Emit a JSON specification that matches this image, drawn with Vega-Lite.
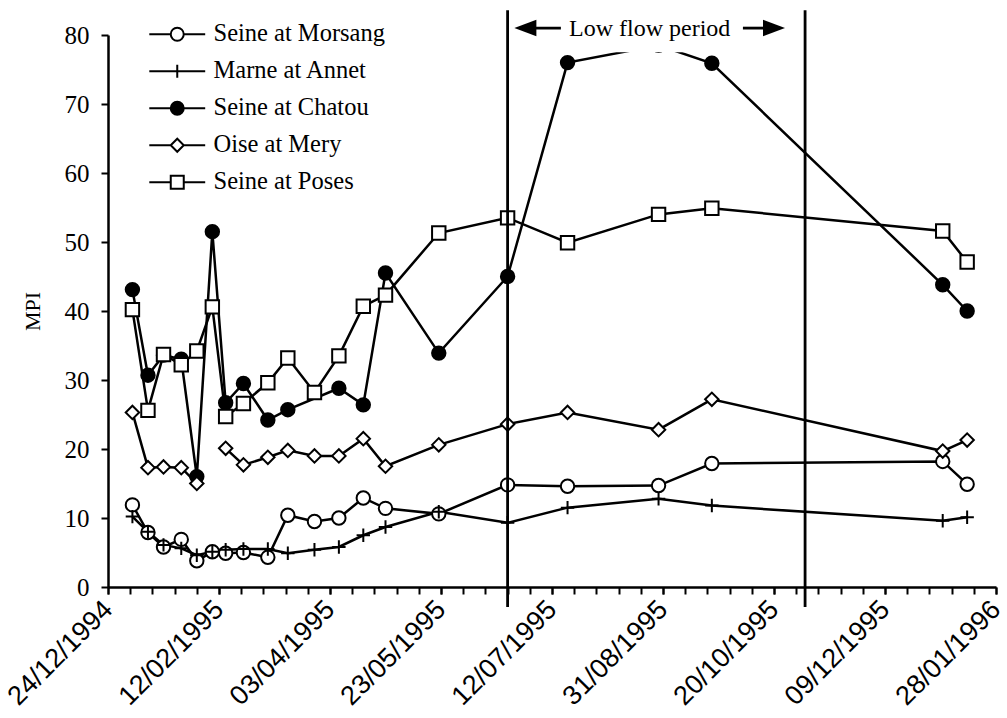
{
  "$schema": "https://vega.github.io/schema/vega-lite/v6.json",
  "width": 888,
  "height": 552,
  "autosize": "none",
  "padding": {"left": 108, "top": 35, "right": 11, "bottom": 131},
  "background": "white",
  "config": {
    "view": {"stroke": null},
    "font": "Liberation Serif",
    "legend": {
      "orient": "none",
      "legendX": 57,
      "legendY": -13,
      "padding": 0,
      "symbolSize": 169,
      "symbolStrokeColor": "black",
      "symbolStrokeWidth": 2,
      "symbolOpacity": 1,
      "labelFont": "Liberation Serif",
      "labelFontSize": 24.5,
      "labelColor": "black",
      "labelOffset": 24,
      "rowPadding": 12,
      "labelLimit": 400
    }
  },
  "datasets": {
    "mpi": [
      {"date": "1995-01-04", "series": "Seine at Morsang", "value": 11.9},
      {"date": "1995-01-11", "series": "Seine at Morsang", "value": 7.9},
      {"date": "1995-01-18", "series": "Seine at Morsang", "value": 5.8},
      {"date": "1995-01-26", "series": "Seine at Morsang", "value": 6.9},
      {"date": "1995-02-02", "series": "Seine at Morsang", "value": 3.8},
      {"date": "1995-02-09", "series": "Seine at Morsang", "value": 5.1},
      {"date": "1995-02-15", "series": "Seine at Morsang", "value": 4.9},
      {"date": "1995-02-23", "series": "Seine at Morsang", "value": 5.0},
      {"date": "1995-03-06", "series": "Seine at Morsang", "value": 4.3},
      {"date": "1995-03-15", "series": "Seine at Morsang", "value": 10.4},
      {"date": "1995-03-27", "series": "Seine at Morsang", "value": 9.5},
      {"date": "1995-04-07", "series": "Seine at Morsang", "value": 10.0},
      {"date": "1995-04-18", "series": "Seine at Morsang", "value": 12.9},
      {"date": "1995-04-28", "series": "Seine at Morsang", "value": 11.4},
      {"date": "1995-05-22", "series": "Seine at Morsang", "value": 10.6},
      {"date": "1995-06-22", "series": "Seine at Morsang", "value": 14.8},
      {"date": "1995-07-19", "series": "Seine at Morsang", "value": 14.6},
      {"date": "1995-08-29", "series": "Seine at Morsang", "value": 14.7},
      {"date": "1995-09-22", "series": "Seine at Morsang", "value": 17.9},
      {"date": "1996-01-04", "series": "Seine at Morsang", "value": 18.2},
      {"date": "1996-01-15", "series": "Seine at Morsang", "value": 14.9},

      {"date": "1995-01-04", "series": "Marne at Annet", "value": 10.2},
      {"date": "1995-01-11", "series": "Marne at Annet", "value": 8.0},
      {"date": "1995-01-18", "series": "Marne at Annet", "value": 6.1},
      {"date": "1995-01-26", "series": "Marne at Annet", "value": 5.6},
      {"date": "1995-02-02", "series": "Marne at Annet", "value": 4.6},
      {"date": "1995-02-09", "series": "Marne at Annet", "value": 5.1},
      {"date": "1995-02-15", "series": "Marne at Annet", "value": 5.4},
      {"date": "1995-02-23", "series": "Marne at Annet", "value": 5.5},
      {"date": "1995-03-06", "series": "Marne at Annet", "value": 5.5},
      {"date": "1995-03-15", "series": "Marne at Annet", "value": 4.9},
      {"date": "1995-03-27", "series": "Marne at Annet", "value": 5.4},
      {"date": "1995-04-07", "series": "Marne at Annet", "value": 5.8},
      {"date": "1995-04-18", "series": "Marne at Annet", "value": 7.5},
      {"date": "1995-04-28", "series": "Marne at Annet", "value": 8.7},
      {"date": "1995-05-22", "series": "Marne at Annet", "value": 10.9},
      {"date": "1995-06-22", "series": "Marne at Annet", "value": 9.3},
      {"date": "1995-07-19", "series": "Marne at Annet", "value": 11.5},
      {"date": "1995-08-29", "series": "Marne at Annet", "value": 12.8},
      {"date": "1995-09-22", "series": "Marne at Annet", "value": 11.8},
      {"date": "1996-01-04", "series": "Marne at Annet", "value": 9.6},
      {"date": "1996-01-15", "series": "Marne at Annet", "value": 10.1},

      {"date": "1995-01-04", "series": "Seine at Chatou", "value": 43.1},
      {"date": "1995-01-11", "series": "Seine at Chatou", "value": 30.7},
      {"date": "1995-01-18", "series": "Seine at Chatou", "value": 33.6},
      {"date": "1995-01-26", "series": "Seine at Chatou", "value": 33.0},
      {"date": "1995-02-02", "series": "Seine at Chatou", "value": 16.0},
      {"date": "1995-02-09", "series": "Seine at Chatou", "value": 51.5},
      {"date": "1995-02-15", "series": "Seine at Chatou", "value": 26.7},
      {"date": "1995-02-23", "series": "Seine at Chatou", "value": 29.5},
      {"date": "1995-03-06", "series": "Seine at Chatou", "value": 24.2},
      {"date": "1995-03-15", "series": "Seine at Chatou", "value": 25.7},
      {"date": "1995-04-07", "series": "Seine at Chatou", "value": 28.8},
      {"date": "1995-04-18", "series": "Seine at Chatou", "value": 26.4},
      {"date": "1995-04-28", "series": "Seine at Chatou", "value": 45.5},
      {"date": "1995-05-22", "series": "Seine at Chatou", "value": 33.9},
      {"date": "1995-06-22", "series": "Seine at Chatou", "value": 45.0},
      {"date": "1995-07-19", "series": "Seine at Chatou", "value": 76.0},
      {"date": "1995-08-29", "series": "Seine at Chatou", "value": 78.5},
      {"date": "1995-09-22", "series": "Seine at Chatou", "value": 75.9},
      {"date": "1996-01-04", "series": "Seine at Chatou", "value": 43.8},
      {"date": "1996-01-15", "series": "Seine at Chatou", "value": 40.0},

      {"date": "1995-01-04", "series": "Oise at Mery", "value": 25.3},
      {"date": "1995-01-11", "series": "Oise at Mery", "value": 17.3},
      {"date": "1995-01-18", "series": "Oise at Mery", "value": 17.4},
      {"date": "1995-01-26", "series": "Oise at Mery", "value": 17.3},
      {"date": "1995-02-02", "series": "Oise at Mery", "value": 15.0},
      {"date": "1995-02-09", "series": "Oise at Mery", "value": null},
      {"date": "1995-02-15", "series": "Oise at Mery", "value": 20.1},
      {"date": "1995-02-23", "series": "Oise at Mery", "value": 17.7},
      {"date": "1995-03-06", "series": "Oise at Mery", "value": 18.8},
      {"date": "1995-03-15", "series": "Oise at Mery", "value": 19.8},
      {"date": "1995-03-27", "series": "Oise at Mery", "value": 19.0},
      {"date": "1995-04-07", "series": "Oise at Mery", "value": 19.0},
      {"date": "1995-04-18", "series": "Oise at Mery", "value": 21.5},
      {"date": "1995-04-28", "series": "Oise at Mery", "value": 17.5},
      {"date": "1995-05-22", "series": "Oise at Mery", "value": 20.6},
      {"date": "1995-06-22", "series": "Oise at Mery", "value": 23.6},
      {"date": "1995-07-19", "series": "Oise at Mery", "value": 25.3},
      {"date": "1995-08-29", "series": "Oise at Mery", "value": 22.8},
      {"date": "1995-09-22", "series": "Oise at Mery", "value": 27.2},
      {"date": "1996-01-04", "series": "Oise at Mery", "value": 19.7},
      {"date": "1996-01-15", "series": "Oise at Mery", "value": 21.3},

      {"date": "1995-01-04", "series": "Seine at Poses", "value": 40.2},
      {"date": "1995-01-11", "series": "Seine at Poses", "value": 25.6},
      {"date": "1995-01-18", "series": "Seine at Poses", "value": 33.7},
      {"date": "1995-01-26", "series": "Seine at Poses", "value": 32.2},
      {"date": "1995-02-02", "series": "Seine at Poses", "value": 34.2},
      {"date": "1995-02-09", "series": "Seine at Poses", "value": 40.6},
      {"date": "1995-02-15", "series": "Seine at Poses", "value": 24.7},
      {"date": "1995-02-23", "series": "Seine at Poses", "value": 26.6},
      {"date": "1995-03-06", "series": "Seine at Poses", "value": 29.6},
      {"date": "1995-03-15", "series": "Seine at Poses", "value": 33.2},
      {"date": "1995-03-27", "series": "Seine at Poses", "value": 28.2},
      {"date": "1995-04-07", "series": "Seine at Poses", "value": 33.5},
      {"date": "1995-04-18", "series": "Seine at Poses", "value": 40.7},
      {"date": "1995-04-28", "series": "Seine at Poses", "value": 42.3},
      {"date": "1995-05-22", "series": "Seine at Poses", "value": 51.3},
      {"date": "1995-06-22", "series": "Seine at Poses", "value": 53.5},
      {"date": "1995-07-19", "series": "Seine at Poses", "value": 49.9},
      {"date": "1995-08-29", "series": "Seine at Poses", "value": 54.0},
      {"date": "1995-09-22", "series": "Seine at Poses", "value": 54.9},
      {"date": "1996-01-04", "series": "Seine at Poses", "value": 51.6},
      {"date": "1996-01-15", "series": "Seine at Poses", "value": 47.1}
    ]
  },
  "layer": [
    {
      "data": {"name": "mpi"},
      "mark": {"type": "line", "stroke": "black", "invalid": "break-paths-show-domains"},
      "encoding": {
        "x": {
          "field": "date",
          "type": "temporal",
          "scale": {"type": "utc", "domain": [788227200000, 822787200000], "nice": false},
          "axis": {
            "orient": "bottom",
            "title": null,
            "grid": false,
            "values": [788227200000, 789091200000, 789955200000, 790819200000, 791683200000, 792547200000, 793411200000, 794275200000, 795139200000, 796003200000, 796867200000, 797731200000, 798595200000, 799459200000, 800323200000, 801187200000, 802051200000, 802915200000, 803779200000, 804643200000, 805507200000, 806371200000, 807235200000, 808099200000, 808963200000, 809827200000, 810691200000, 811555200000, 812419200000, 813283200000, 814147200000, 815011200000, 815875200000, 816739200000, 817603200000, 818467200000, 819331200000, 820195200000, 821059200000, 821923200000, 822787200000],
            "labels": false,
            "tickSize": 7,
            "tickWidth": 2,
            "tickColor": "black",
            "domainColor": "black",
            "domainWidth": 2.5
          }
        },
        "y": {
          "field": "value",
          "type": "quantitative",
          "scale": {"domain": [0, 80], "nice": false, "zero": false},
          "axis": {
            "title": "MPI",
            "titleFont": "Liberation Serif",
            "titleFontSize": 22,
            "titleFontWeight": "normal",
            "titleColor": "black",
            "titlePadding": 20,
            "grid": false,
            "values": [0, 10, 20, 30, 40, 50, 60, 70, 80],
            "labelFont": "Liberation Serif",
            "labelFontSize": 25,
            "labelColor": "black",
            "labelPadding": 12,
            "tickSize": 7,
            "tickWidth": 2,
            "tickColor": "black",
            "domainColor": "black",
            "domainWidth": 2.5
          }
        },
        "detail": {"field": "series", "type": "nominal"},
        "strokeWidth": {
          "field": "series",
          "type": "nominal",
          "scale": {
            "domain": ["Seine at Morsang", "Marne at Annet", "Seine at Chatou", "Oise at Mery", "Seine at Poses"],
            "range": [2.5, 2.5, 2.8, 2.5, 1.6]
          },
          "legend": null
        }
      }
    },
    {
      "data": {"name": "mpi"},
      "mark": {"type": "point", "opacity": 1, "stroke": "black", "strokeWidth": 2, "size": 180},
      "encoding": {
        "x": {
          "field": "date",
          "type": "temporal",
          "axis": {
            "orient": "bottom",
            "title": null,
            "grid": false,
            "domain": false,
            "values": [788227200000, 792547200000, 796867200000, 801187200000, 805507200000, 809827200000, 814147200000, 818467200000, 822787200000],
            "labelExpr": "utcFormat(datum.value, '%d/%m/%Y')",
            "labelAngle": -45,
            "labelAlign": "right",
            "labelBaseline": "middle",
            "labelFont": "Liberation Sans",
            "labelFontSize": 27,
            "labelColor": "black",
            "labelOverlap": false,
            "labelFlush": false,
            "labelBound": false,
            "labelPadding": 11,
            "tickSize": 7,
            "tickWidth": 2,
            "tickColor": "black"
          }
        },
        "y": {"field": "value", "type": "quantitative"},
        "shape": {
          "field": "series",
          "type": "nominal",
          "scale": {
            "domain": ["Seine at Morsang", "Marne at Annet", "Seine at Chatou", "Oise at Mery", "Seine at Poses"],
            "range": ["circle", "M-1,0H1M0,-1V1", "circle", "diamond", "square"]
          },
          "legend": null
        },
        "fill": {
          "field": "series",
          "type": "nominal",
          "scale": {
            "domain": ["Seine at Morsang", "Marne at Annet", "Seine at Chatou", "Oise at Mery", "Seine at Poses"],
            "range": ["white", "transparent", "black", "white", "white"]
          },
          "legend": null
        }
      }
    },
    {
      "data": {"name": "mpi"},
      "transform": [{"filter": "false"}],
      "mark": {"type": "point", "opacity": 1, "stroke": "black", "strokeWidth": 2, "size": 169},
      "encoding": {
        "x": {"field": "date", "type": "temporal", "axis": null},
        "y": {"field": "value", "type": "quantitative"},
        "shape": {
          "field": "series",
          "type": "nominal",
          "scale": {
            "domain": ["Seine at Morsang", "Marne at Annet", "Seine at Chatou", "Oise at Mery", "Seine at Poses"],
            "range": [
              "M-4.3,0H-1M1,0H4.3M-1,0A1,1,0,1,0,1,0A1,1,0,1,0,-1,0Z",
              "M-4.3,0H4.3M0,-1V1",
              "M-4.3,0H-1M1,0H4.3M-1,0A1,1,0,1,0,1,0A1,1,0,1,0,-1,0Z",
              "M-4.3,0H-1M1,0H4.3M-1,0L0,-1L1,0L0,1Z",
              "M-4.3,0H-1M1,0H4.3M-1,-1H1V1H-1Z"
            ]
          },
          "legend": {
            "title": null,
            "encode": {
              "symbols": {
                "update": {
                  "stroke": {"value": "black"},
                  "strokeWidth": {"value": 2},
                  "opacity": {"value": 1}
                }
              }
            }
          }
        },
        "fill": {
          "field": "series",
          "type": "nominal",
          "scale": {
            "domain": ["Seine at Morsang", "Marne at Annet", "Seine at Chatou", "Oise at Mery", "Seine at Poses"],
            "range": ["white", "transparent", "black", "white", "white"]
          },
          "legend": {
            "title": null,
            "encode": {
              "symbols": {
                "update": {
                  "stroke": {"value": "black"},
                  "strokeWidth": {"value": 2},
                  "opacity": {"value": 1}
                }
              }
            }
          }
        }
      }
    },
    {
      "data": {"values": [{"date": "1995-06-22"}, {"date": "1995-11-03"}]},
      "mark": {"type": "rule", "stroke": "black", "strokeWidth": 2.8},
      "encoding": {
        "x": {"field": "date", "type": "temporal", "axis": null},
        "y": {"datum": 83.6},
        "y2": {"datum": -2.9}
      }
    },
    {
      "data": {"values": [{"start": "1995-06-24", "end": "1995-11-01"}]},
      "mark": {"type": "rect", "fill": "white"},
      "encoding": {
        "x": {"field": "start", "type": "temporal", "axis": null},
        "x2": {"field": "end"},
        "y": {"datum": 84.5},
        "y2": {"datum": 77.5}
      }
    },
    {
      "data": {"values": [{"start": "1995-06-30", "end": "1995-07-16"}, {"start": "1995-10-06", "end": "1995-10-20"}]},
      "mark": {"type": "rule", "stroke": "black", "strokeWidth": 2.8},
      "encoding": {
        "x": {"field": "start", "type": "temporal", "axis": null},
        "x2": {"field": "end"},
        "y": {"datum": 81.0}
      }
    },
    {
      "data": {"values": [{"date": "1995-06-30", "dir": "left"}, {"date": "1995-10-20", "dir": "right"}]},
      "mark": {"type": "point", "filled": true, "fill": "black", "opacity": 1, "size": 484},
      "encoding": {
        "x": {"field": "date", "type": "temporal", "axis": null},
        "y": {"datum": 81.0},
        "shape": {
          "field": "dir",
          "type": "nominal",
          "scale": {"domain": ["left", "right"], "range": ["M-1,0L1,-0.75L1,0.75Z", "M1,0L-1,-0.75L-1,0.75Z"]},
          "legend": null
        }
      }
    },
    {
      "data": {"values": [{"date": "1995-08-25", "label": "Low flow period"}]},
      "mark": {"type": "text", "font": "Liberation Serif", "fontSize": 24, "align": "center", "baseline": "alphabetic", "color": "black"},
      "encoding": {
        "x": {"field": "date", "type": "temporal", "axis": null},
        "y": {"datum": 79.85},
        "text": {"field": "label"}
      }
    }
  ],
  "resolve": {
    "scale": {"shape": "independent", "fill": "independent"},
    "axis": {"x": "independent"}
  }
}
